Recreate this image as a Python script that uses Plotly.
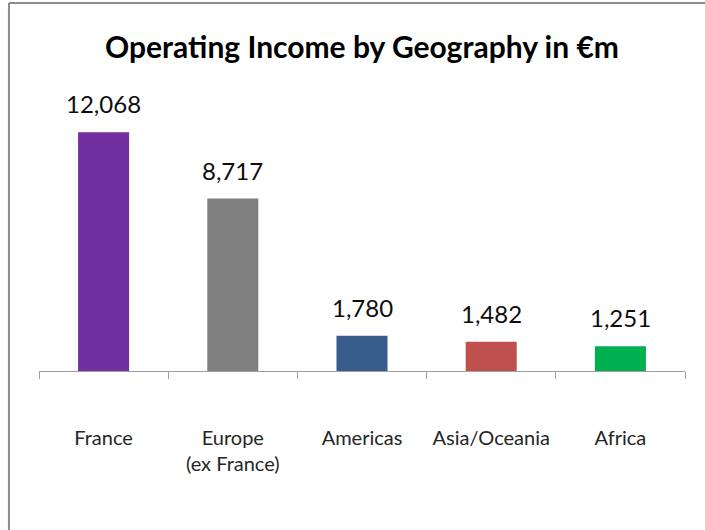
"""
Operating income by geography, Excel-style column chart.
"""
import plotly.graph_objects as go

CATEGORIES = ["France", "Europe<br>(ex France)", "Americas", "Asia/Oceania", "Africa"]
INCOME = [12068, 8717, 1780, 1482, 1251]
BAR_COLORS = ["#7030A0", "#808080", "#385D8A", "#C0504D", "#00B050"]

FONT = "Lato"
AXIS_GRAY = "#A0A0A0"
BORDER_GRAY = "#8C8C8C"

fig = go.Figure(
    go.Bar(
        x=CATEGORIES,
        y=INCOME,
        marker=dict(color=BAR_COLORS, line=dict(width=0)),
        width=0.395,
        hoverinfo="x+y",
    )
)

# value labels sitting above each bar
for cat, val in zip(CATEGORIES, INCOME):
    fig.add_annotation(
        x=cat,
        y=val,
        text=f"{val:,}",
        showarrow=False,
        yanchor="bottom",
        yshift=12,
        font=dict(family=FONT, size=24, color="#0D0D0D"),
    )

# chart-area border: only the top and left edges show in the original crop
fig.add_shape(
    type="line",
    xref="paper",
    yref="paper",
    x0=-0.0465,
    x1=1.1,
    y0=1.3285,
    y1=1.3285,
    line=dict(color=BORDER_GRAY, width=2),
    layer="above",
)
fig.add_shape(
    type="line",
    xref="paper",
    yref="paper",
    x0=-0.0465,
    x1=-0.0465,
    y0=-0.7,
    y1=1.3285,
    line=dict(color=BORDER_GRAY, width=2),
    layer="above",
)

fig.update_xaxes(
    type="category",
    showline=True,
    linecolor=AXIS_GRAY,
    linewidth=1,
    ticks="outside",
    tickson="boundaries",
    ticklen=7,
    tickcolor=AXIS_GRAY,
    tickwidth=1,
    ticklabelstandoff=49,
    tickfont=dict(family=FONT, size=20, color="#262626"),
    showgrid=False,
    zeroline=False,
)
fig.update_yaxes(
    range=[0, 14000],
    visible=False,
    showgrid=False,
    zeroline=False,
)

fig.update_layout(
    width=705,
    height=530,
    margin=dict(l=39, r=20, t=94, b=159),
    paper_bgcolor="white",
    plot_bgcolor="white",
    showlegend=False,
    bargap=0.6,
    font=dict(family=FONT, color="#000000"),
    title=dict(
        text="<b>Operating Income by Geography in €m</b>",
        x=0.5,
        xref="paper",
        xanchor="center",
        y=1 - 47 / 530,
        yref="container",
        yanchor="middle",
        font=dict(family=FONT, size=30, color="#000000"),
    ),
)

# the page body has a default 8px margin; drop it so the figure sits at 0,0
fig.write_html(
    "out.html",
    config={"displayModeBar": False},
    post_script="document.body.style.margin='0';document.body.style.overflow='hidden';",
)
